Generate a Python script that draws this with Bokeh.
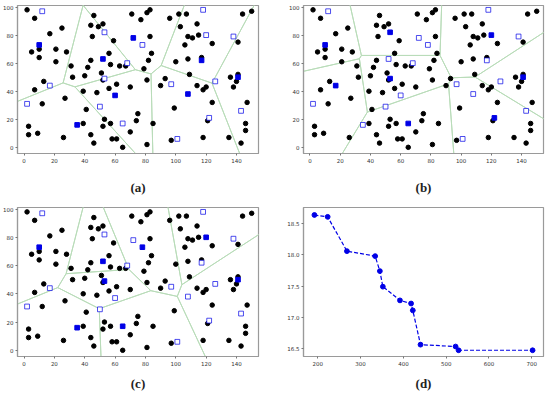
from bokeh.plotting import figure
from bokeh.models import Range1d, FixedTicker, PrintfTickFormatter
from bokeh.layouts import column, row
from bokeh.embed import file_html
from bokeh.resources import INLINE

# ---------------- data ----------------
cust_x = [2, 7, 17, 25, 21, 5, 10, 10, 21, 28, 31, 32, 13, 7, 27, 12, 3, 3, 9, 26,
          39, 41, 39, 40, 42, 44, 46, 44, 49, 52, 45, 59, 56, 57, 63, 67, 51, 52, 61, 56,
          48, 70, 53, 57, 52, 44, 46, 58, 61, 65, 70, 74, 75, 71, 77, 81, 83, 83, 84, 82,
          79, 81, 85, 93, 90, 81, 96, 102, 107, 103, 106, 108, 111, 115, 114, 124, 108, 117, 100, 109,
          114, 118, 120, 124, 99, 121, 97, 118, 135, 143, 144, 150, 141, 136, 138, 140, 141, 147, 146, 146]
cust_y = [98, 92, 81, 85, 70, 68, 70, 64, 61, 68, 58, 50, 47, 41, 35, 31, 15, 9, 10, 7,
          17, 27, 40, 51, 57, 62, 94, 87, 86, 88, 79, 76, 67, 59, 58, 58, 53, 48, 45, 42,
          39, 43, 20, 17, 15, 9, 3, 6, 6, 0, 11, 19, 24, 95, 91, 96, 98, 79, 67, 62,
          56, 48, 17, 49, 44, 2, 92, 95, 95, 86, 73, 79, 78, 80, 88, 74, 63, 64, 61, 52,
          44, 41, 43, 32, 28, 19, 5, 7, 7, 3, 95, 97, 75, 50, 43, 47, 52, 32, 17, 12]

fac_x = [12, 10, 53, 72, 78, 52, 68, 53, 17, 60, 2, 50, 35, 65, 97, 108, 101, 118, 120, 138, 117, 126, 141, 143, 122]
fac_y = [97, 73, 82, 78, 73, 63, 60, 49, 44, 37, 31, 29, 16, 17, 45, 38, 6, 98, 80, 79, 62, 47, 50, 26, 21]

open_a = [1, 5, 3, 9, 12, 15, 20, 22]
open_b = [1, 2, 8, 7, 13, 18, 22, 24]
open_c = [1, 5, 7, 4, 12, 13, 18, 22]

d_x = [192, 223, 268, 334, 345, 352, 392, 418, 422, 440, 522, 529, 702]
d_y = [18.64, 18.61, 18.06, 17.98, 17.74, 17.49, 17.27, 17.22, 17.11, 16.56, 16.53, 16.47, 16.47]

map_xticks = [0, 20, 40, 60, 80, 100, 120, 140]
map_yticks = [0, 20, 40, 60, 80, 100]
d_xticks = [200, 300, 400, 500, 600, 700]
d_yticks = [16.5, 17.0, 17.5, 18.0, 18.5]
labels = ["(a)", "(b)", "(c)", "(d)"]

GREEN = "#b9dcb9"
BLUE = "#0000e6"


def clip(poly, a, b, c):
    out = []
    n = len(poly)
    for k in range(n):
        p1 = poly[k]
        p2 = poly[(k + 1) % n]
        v1 = a * p1[0] + b * p1[1] - c
        v2 = a * p2[0] + b * p2[1] - c
        if v1 <= 0:
            out.append(p1)
        if (v1 < 0 < v2) or (v2 < 0 < v1):
            t = v1 / (v1 - v2)
            out.append((p1[0] + t * (p2[0] - p1[0]), p1[1] + t * (p2[1] - p1[1])))
    return out


def voronoi_cells(px, py):
    B = 3000.0
    cells = []
    for i in range(len(px)):
        poly = [(-B, -B), (B, -B), (B, B), (-B, B)]
        for j in range(len(px)):
            if i == j:
                continue
            a = px[j] - px[i]
            b = py[j] - py[i]
            c = (px[j] ** 2 + py[j] ** 2 - px[i] ** 2 - py[i] ** 2) / 2.0
            poly = clip(poly, a, b, c)
        cells.append(poly)
    return cells


def style(p, xt, yt, label, lab_standoff):
    p.xgrid.visible = False
    p.ygrid.visible = False
    p.outline_line_color = "#9a9a9a"
    p.outline_line_width = 1.2
    p.xaxis.ticker = FixedTicker(ticks=xt)
    p.yaxis.ticker = FixedTicker(ticks=yt)
    for ax in (p.xaxis[0], p.yaxis[0]):
        ax.major_label_text_font = "DejaVu Sans"
        ax.major_label_text_font_size = "5.5px"
        ax.major_label_text_color = "#333333"
        ax.major_label_standoff = 2
        ax.major_tick_in = 0
        ax.major_tick_out = 2
        ax.minor_tick_in = 0
        ax.minor_tick_out = 0
        ax.axis_line_color = "#9a9a9a"
        ax.axis_line_width = 1.2
        ax.major_tick_line_color = "#777777"
    xa = p.xaxis[0]
    xa.axis_label = label
    xa.axis_label_text_font = "Liberation Serif"
    xa.axis_label_text_font_size = "13px"
    xa.axis_label_text_font_style = "bold"
    xa.axis_label_text_color = "#222222"
    xa.axis_label_standoff = lab_standoff


def map_panel(open_idx, label, width, height, bl, br, bt, bb, so):
    p = figure(width=width, height=height, title=None, output_backend="svg",
               toolbar_location=None, x_range=Range1d(-4.3, 154.5),
               y_range=Range1d(-4.4, 101.1),
               min_border_left=bl, min_border_right=br,
               min_border_top=bt, min_border_bottom=bb)
    ox = [fac_x[i] for i in open_idx]
    oy = [fac_y[i] for i in open_idx]
    cells = voronoi_cells(ox, oy)
    p.patches([[q[0] for q in c] for c in cells], [[q[1] for q in c] for c in cells],
              fill_color=None, line_color=GREEN, line_width=1)
    p.scatter(cust_x, cust_y, marker="circle", size=4.5, color="black")
    cx = [fac_x[i] for i in range(len(fac_x)) if i not in open_idx]
    cy = [fac_y[i] for i in range(len(fac_y)) if i not in open_idx]
    p.scatter(cx, cy, marker="square", size=4.8, fill_color="white",
              line_color=BLUE, line_width=0.7)
    p.scatter(ox, oy, marker="square", size=4.6, color=BLUE)
    style(p, map_xticks, map_yticks, label, so)
    return p


pa = map_panel(open_a, labels[0], 279, 197, 17, 21, 5, 42, 14)
pb = map_panel(open_b, labels[1], 269, 197, 24, 5, 5, 42, 14)
pc = map_panel(open_c, labels[2], 279, 198, 17, 21, 10, 39, 7)

pd = figure(width=269, height=198, title=None, output_backend="svg",
            toolbar_location=None, x_range=Range1d(166.5, 727.5),
            y_range=Range1d(16.37, 18.76),
            min_border_left=24, min_border_right=5, min_border_top=1, min_border_bottom=39)
pd.line(d_x, d_y, line_color=BLUE, line_width=1.2, line_dash="4 2")
pd.scatter(d_x, d_y, marker="circle", size=4.8, color=BLUE)
style(pd, d_xticks, d_yticks, labels[3], 7)
pd.yaxis[0].formatter = PrintfTickFormatter(format="%.1f")

layout = column(row(pa, pb), row(pc, pd))
open("out.html", "w").write(file_html(layout, INLINE))
